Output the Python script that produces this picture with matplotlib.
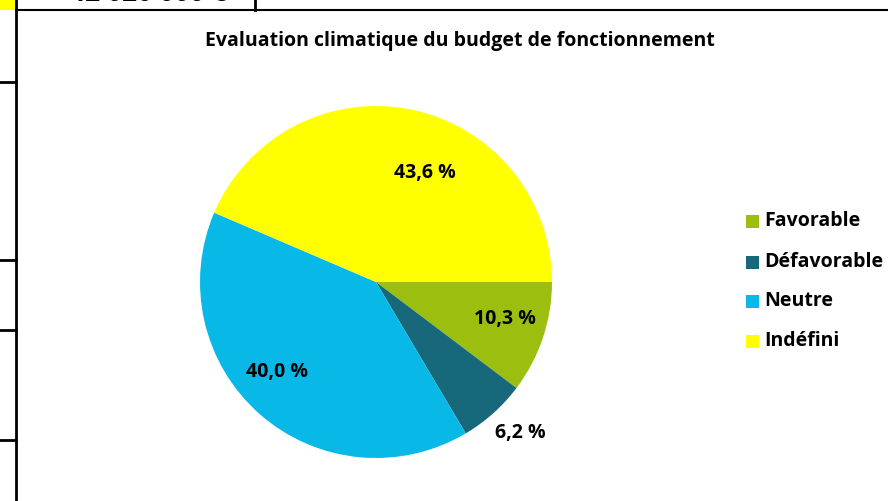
import matplotlib
matplotlib.use("Agg")
import matplotlib.pyplot as plt
from matplotlib.patches import Rectangle
from matplotlib.lines import Line2D

# data
categories = ["Favorable", "Défavorable", "Neutre", "Indéfini"]
shares = [10.3, 6.2, 40.0, 43.6]
colors = ["#9BBE0F", "#17687A", "#08B9E8", "#FFFF00"]
title = "Evaluation climatique du budget de fonctionnement"
top_cell_text = "42 020 000 €"

# label placement (data units of a unit pie)
label_pos = [(0.73, -0.21), (0.82, -0.86), (-0.56, -0.51), (0.28, 0.62)]

W, H = 888, 501
plt.rcParams["font.family"] = ["Open Sans", "DejaVu Sans"]
fig = plt.figure(figsize=(W / 100, H / 100), dpi=100)


def fx(px):
    return px / W


def fy(py):
    return 1 - py / H


# pie
cx, cy, r = 376, 282, 176
ax = fig.add_axes([fx(cx - r), fy(cy + r), 2 * r / W, 2 * r / H])
wedges, _ = ax.pie(shares, colors=colors, startangle=0, counterclock=False,
                   radius=1, wedgeprops=dict(linewidth=0))
ax.set_xlim(-1, 1)
ax.set_ylim(-1, 1)
ax.set_aspect("auto")
ax.axis("off")
for v, (x, y) in zip(shares, label_pos):
    ax.text(x, y, f"{v:.1f}".replace(".", ",") + " %", ha="center", va="center",
            fontsize=14, fontweight="bold", color="black", clip_on=False)

# title
fig.text(fx(460), fy(41), title, ha="center", va="center",
         fontsize=14, fontweight="bold")

# legend
leg_y = [221, 262, 301, 341]
for name, c, y in zip(categories, colors, leg_y):
    fig.patches.append(Rectangle((fx(746), fy(y + 6.5)), 13 / W, 13 / H,
                                 transform=fig.transFigure, color=c, lw=0))
    fig.text(fx(764), fy(y), name, ha="left", va="center",
             fontsize=14, fontweight="bold")

# spreadsheet remnants around the chart
fig.patches.append(Rectangle((0, fy(10)), fx(16), 10 / H,
                             transform=fig.transFigure, color="#FFFF00", lw=0))
fig.text(fx(148), fy(-6), top_cell_text, ha="center", va="center",
         fontsize=19, fontweight="bold")
lines = [
    ((16, 16), (0, 501), 2.0),
    ((16, 888), (10, 10), 1.5),
    ((255, 255), (0, 10), 2.0),
    ((0, 16), (82, 82), 2.0),
    ((0, 16), (260, 260), 2.0),
    ((0, 16), (330, 330), 2.0),
    ((0, 16), (440, 440), 2.0),
]
for xs, ys, lw in lines:
    fig.add_artist(Line2D([fx(x) for x in xs], [fy(y) for y in ys],
                          transform=fig.transFigure, color="black", lw=lw))

fig.savefig("out.png", dpi=100)
